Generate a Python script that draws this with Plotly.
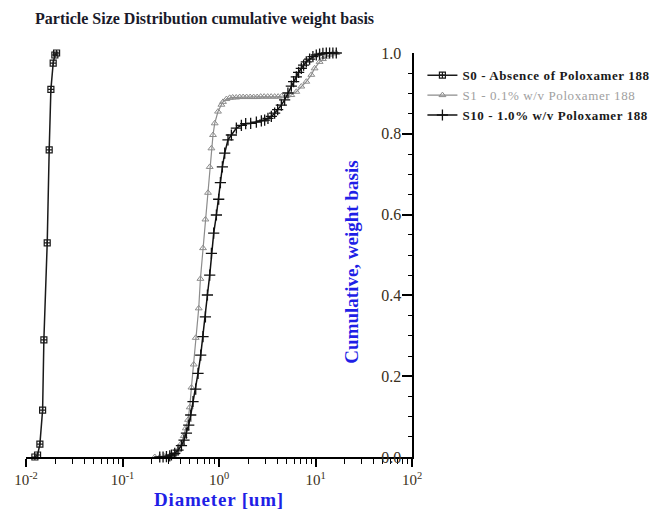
import plotly.graph_objects as go

# ---------------- data ----------------
s0_d = [0.01236, 0.01318, 0.01393, 0.01486, 0.01532, 0.01659, 0.01739,
        0.01811, 0.01913, 0.01991, 0.02075]
s0_v = [0.0, 0.005, 0.032, 0.116, 0.29, 0.53, 0.76, 0.91, 0.975, 0.995, 1.0]

s1_d = [0.2160, 0.2432, 0.2741, 0.3088, 0.3341, 0.3561, 0.3763, 0.4081, 0.4311,
        0.4521, 0.4776, 0.4973, 0.5179, 0.5470, 0.5737, 0.6164, 0.6419, 0.6829,
        0.7232, 0.7694, 0.8013, 0.8344, 0.8667, 0.9027, 0.9764, 1.059, 1.100,
        1.193, 1.291, 1.386, 1.507, 1.638, 1.780, 1.935, 2.104, 2.287, 2.486,
        2.702, 2.937, 3.193, 3.470, 3.772, 4.101, 4.457, 4.985, 5.617, 6.327,
        7.129, 8.03, 9.05, 9.79, 11.03, 11.93, 12.94, 14.00, 15.14, 16.42]
s1_v = [0.0, 0.0, 0.001, 0.003, 0.005, 0.010, 0.017, 0.034, 0.052,
        0.071, 0.092, 0.123, 0.172, 0.229, 0.295, 0.368, 0.441, 0.517,
        0.588, 0.654, 0.718, 0.764, 0.797, 0.826, 0.855, 0.872, 0.879,
        0.886, 0.889, 0.890, 0.890, 0.891, 0.891, 0.891, 0.891, 0.891, 0.891,
        0.892, 0.892, 0.892, 0.892, 0.892, 0.892, 0.893, 0.894, 0.896, 0.904,
        0.917, 0.929, 0.946, 0.962, 0.978, 0.985, 0.991, 0.996, 0.999, 1.0]

s10_d = [0.2432, 0.2632, 0.2854, 0.3088, 0.3215, 0.3479, 0.3763, 0.4081, 0.4342,
         0.4597, 0.4856, 0.5093, 0.5380, 0.5737, 0.6061, 0.6465, 0.6829, 0.7232,
         0.7585, 0.8013, 0.8344, 0.8813, 0.9399, 0.9929, 1.034, 1.084, 1.146,
         1.239, 1.344, 1.514, 1.706, 1.890, 2.129, 2.439, 2.748, 2.972, 3.216,
         3.486, 3.772, 4.053, 4.426, 4.786, 5.180, 5.617, 5.934, 6.327, 6.684,
         7.129, 7.53, 8.03, 8.69, 9.40, 10.19, 11.03, 11.93, 12.94, 14.00,
         15.14, 16.42]
s10_v = [0.0, 0.0, 0.001, 0.003, 0.005, 0.009, 0.017, 0.028, 0.042,
         0.059, 0.079, 0.104, 0.137, 0.168, 0.207, 0.252, 0.298, 0.347,
         0.401, 0.450, 0.504, 0.554, 0.599, 0.638, 0.679, 0.718, 0.752,
         0.785, 0.797, 0.814, 0.821, 0.825, 0.826, 0.829, 0.832, 0.834, 0.838,
         0.843, 0.851, 0.860, 0.871, 0.884, 0.901, 0.918, 0.929, 0.941, 0.952,
         0.962, 0.970, 0.978, 0.985, 0.991, 0.995, 0.997, 0.999, 1.0, 1.0,
         1.0, 1.0]

x_tickvals = [0.01, 0.1, 1, 10, 100]
x_ticktext = ["10<sup>-2</sup>", "10<sup>-1</sup>", "10<sup>0</sup>",
              "10<sup>1</sup>", "10<sup>2</sup>"]
x_minor = [m * d for d in [0.01, 0.1, 1, 10] for m in range(2, 10)]
y_tickvals = [0.0, 0.2, 0.4, 0.6, 0.8, 1.0]

names = ["<span style='letter-spacing:0.6px'><b>S0 - Absence of Poloxamer 188</b></span>",
         "<span style='color:#a0a0a0;letter-spacing:0.6px'>S1 - 0.1% w/v Poloxamer 188</span>",
         "<span style='letter-spacing:0.6px'><b>S10 - 1.0% w/v Poloxamer 188</b></span>"]

SERIF = "Liberation Serif, Times New Roman, serif"

fig = go.Figure()
fig.add_trace(go.Scatter(
    x=s0_d, y=s0_v, name=names[0], mode="lines+markers", cliponaxis=False,
    line=dict(color="#1a1a1a", width=1.5),
    marker=dict(symbol="square-cross-open", size=6, color="#1a1a1a",
                line=dict(width=1.2, color="#1a1a1a"))))
fig.add_trace(go.Scatter(
    x=s1_d, y=s1_v, name=names[1], mode="lines+markers", cliponaxis=False,
    line=dict(color="#8c8c8c", width=1.2),
    marker=dict(symbol="triangle-up-open", size=6, color="#8c8c8c",
                line=dict(width=1, color="#8c8c8c"))))
fig.add_trace(go.Scatter(
    x=s10_d, y=s10_v, name=names[2], mode="lines+markers", cliponaxis=False,
    line=dict(color="#111111", width=1.5),
    marker=dict(symbol="cross-thin-open", size=8, color="#111111",
                line=dict(width=1.3, color="#111111"))))

fig.update_layout(
    width=664, height=515,
    margin=dict(l=18, r=260, t=45, b=66, autoexpand=False),
    paper_bgcolor="white", plot_bgcolor="white",
    font=dict(family=SERIF, color="#333333", size=14),
    title=dict(text="<b>Particle Size Distribution cumulative weight basis</b>",
               xref="container", x=27 / 664, xanchor="left",
               yref="container", y=0.98, yanchor="middle",
               font=dict(family=SERIF, size=16, color="#1a1a2a")),
    showlegend=True,
    legend=dict(x=1.027, y=0.982, xanchor="left", yanchor="top",
                font=dict(family=SERIF, size=13, color="#1a1a1a"),
                bgcolor="rgba(0,0,0,0)", itemwidth=30, tracegroupgap=0),
)
fig.update_xaxes(
    type="log", range=[-2, 2], showgrid=False, zeroline=False,
    showline=True, linecolor="black", linewidth=2,
    ticks="outside", ticklen=8, tickwidth=1.5, tickcolor="black",
    tickvals=x_tickvals, ticktext=x_ticktext,
    tickfont=dict(family=SERIF, size=15, color="#3a3020"),
    minor=dict(tickvals=x_minor, ticks="outside", ticklen=5, tickwidth=1.2,
               tickcolor="black", showgrid=False),
    title=dict(text="<span style='letter-spacing:0.8px'><b>Diameter [um]</b></span>",
               standoff=6,
               font=dict(family=SERIF, size=19, color="#1f1fe6")),
)
fig.update_yaxes(
    range=[0, 1], side="right", showgrid=False, zeroline=False,
    showline=True, linecolor="black", linewidth=2,
    ticks="inside", ticklen=10, tickwidth=1.5, tickcolor="black",
    tickvals=y_tickvals, tickformat=".1f", ticklabelposition="inside",
    ticklabeloverflow="allow", ticklabelstandoff=1,
    tickfont=dict(family=SERIF, size=16, color="#3a3020"),
    minor=dict(dtick=0.05, ticks="inside", ticklen=4, tickwidth=1.2,
               tickcolor="black", showgrid=False),
)
fig.add_annotation(
    text="<b>Cumulative, weight basis</b>", textangle=-90,
    xref="paper", yref="paper", x=0.844, y=0.483,
    xanchor="center", yanchor="middle", showarrow=False,
    font=dict(family=SERIF, size=19, color="#1f1fe6"))

fig.write_html("out.html")
